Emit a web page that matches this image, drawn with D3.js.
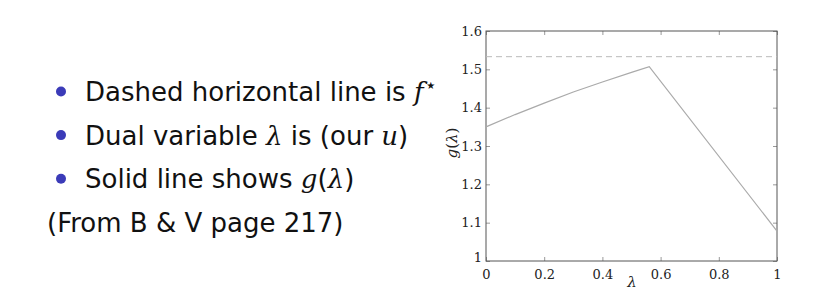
<!DOCTYPE html>
<html>
<head>
<meta charset="utf-8">
<script src="https://cdn.jsdelivr.net/npm/d3@7"></script>
<style>
  body { margin: 0; background: #fff; }
  .txt { font-family: "DejaVu Sans", sans-serif; font-size: 26px; fill: #111; }
  .math { font-family: "DejaVu Serif", serif; font-style: italic; }
  .tick text { font-family: "DejaVu Serif", serif; font-size: 13px; fill: #222; }
</style>
</head>
<body>
<div id="app"></div>
<script>
// g(lambda)
const lambdaVals = [0, 0.1, 0.2, 0.3, 0.4, 0.5, 0.561, 1];
const gVals = [1.350, 1.382, 1.412, 1.441, 1.467, 1.492, 1.507, 1.078];
const fStar = [1.533];
const xTicks = [0, 0.2, 0.4, 0.6, 0.8, 1];
const yTicks = [1, 1.1, 1.2, 1.3, 1.4, 1.5, 1.6];

const width = 819, height = 296;
const plotL = 486, plotR = 777, plotT = 31, plotB = 261;

const svg = d3.select("#app").append("svg")
    .attr("width", width)
    .attr("height", height);

svg.append("rect").attr("width", width).attr("height", height).attr("fill", "#fff");

// bullet text on the left
const lines = [
  { bullet: true, parts: [["Dashed horizontal line is ", false], ["f", true], ["\u22C6", "sup"]] },
  { bullet: true, parts: [["Dual variable ", false], ["\u03BB", true], [" is (our ", false], ["u", true], [")", false]] },
  { bullet: true, parts: [["Solid line shows ", false], ["g", true], ["(", false], ["\u03BB", true], [")", false]] },
  { bullet: false, parts: [["(From B & V page 217)", false]] }
];

lines.forEach((ln, i) => {
  const yy = 101 + i * 43.6;
  if (ln.bullet) {
    svg.append("circle")
      .attr("cx", 61).attr("cy", yy - 9.5).attr("r", 5)
      .attr("fill", "#3b3bb8");
  }
  const t = svg.append("text")
    .attr("class", "txt")
    .attr("x", ln.bullet ? 85 : 47)
    .attr("y", yy);
  ln.parts.forEach(p => {
    const s = t.append("tspan").text(p[0]);
    if (p[1] === true) s.attr("class", "math");
    if (p[1] === "sup") s.attr("font-size", 20).attr("dy", -9).attr("dx", 1);
  });
});

// chart
const x = d3.scaleLinear().domain([0, 1]).range([plotL, plotR]);
const y = d3.scaleLinear().domain([1, 1.6]).range([plotB, plotT]);

const fmt = d => d3.format("")(+d.toFixed(1));

const gx = svg.append("g")
    .attr("transform", `translate(0,${plotB})`)
    .call(d3.axisBottom(x).tickValues(xTicks).tickSize(-4).tickPadding(9).tickFormat(fmt));
const gy = svg.append("g")
    .attr("transform", `translate(${plotL},0)`)
    .call(d3.axisLeft(y).tickValues(yTicks).tickSize(-4).tickPadding(4).tickFormat(fmt));
const gt = svg.append("g")
    .attr("transform", `translate(0,${plotT})`)
    .call(d3.axisTop(x).tickValues(xTicks).tickSize(-4).tickFormat(""));
const gr = svg.append("g")
    .attr("transform", `translate(${plotR},0)`)
    .call(d3.axisRight(y).tickValues(yTicks).tickSize(-4).tickFormat(""));

[gx, gy, gt, gr].forEach(g => {
  g.select(".domain").remove();
  g.selectAll(".tick line").attr("stroke", "#999");
});
gy.selectAll(".tick text").attr("dy", "0.32em");
gy.selectAll(".tick text").filter(d => d === 1).attr("dy", "0.05em");

svg.append("rect")
    .attr("x", plotL).attr("y", plotT)
    .attr("width", plotR - plotL).attr("height", plotB - plotT)
    .attr("fill", "none").attr("stroke", "#555").attr("stroke-width", 1);

// f* dashed line
svg.append("line")
    .attr("x1", x(0)).attr("x2", x(1))
    .attr("y1", y(fStar[0])).attr("y2", y(fStar[0]))
    .attr("stroke", "#bbb").attr("stroke-width", 1)
    .attr("stroke-dasharray", "6,4");

// g(lambda) solid line
const line = d3.line().x((d, i) => x(lambdaVals[i])).y(d => y(d));
svg.append("path")
    .datum(gVals)
    .attr("d", line)
    .attr("fill", "none")
    .attr("stroke", "#aaa")
    .attr("stroke-width", 1.2);

// axis labels
svg.append("text")
    .attr("x", 632).attr("y", 287)
    .attr("text-anchor", "middle")
    .attr("font-family", "DejaVu Serif, serif").attr("font-style", "italic")
    .attr("font-size", 15).attr("fill", "#222")
    .text("\u03BB");

svg.append("text")
    .attr("transform", `translate(457,143) rotate(-90)`)
    .attr("text-anchor", "middle")
    .attr("font-family", "DejaVu Serif, serif")
    .attr("font-size", 15).attr("fill", "#222")
    .html('<tspan font-style="italic">g</tspan>(<tspan font-style="italic">\u03BB</tspan>)');
</script>
</body>
</html>
